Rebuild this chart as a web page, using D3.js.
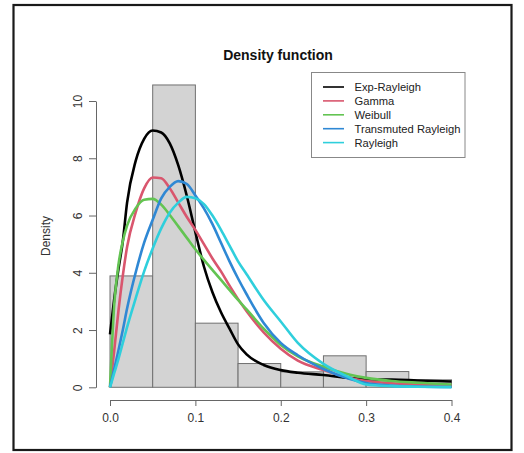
<!DOCTYPE html>
<html><head><meta charset="utf-8">
<script src="https://cdn.jsdelivr.net/npm/d3@7"></script>
<style>body{margin:0;background:#fff}svg{display:block}text{font-family:"Liberation Sans",Arial,sans-serif}</style>
</head><body><svg id="c" width="524" height="453"></svg>
<script>
const binEdges = [0, 0.05, 0.1, 0.15, 0.2, 0.25, 0.3, 0.35, 0.4];
const binDensity = [3.89, 10.56, 2.24, 0.83, 0.54, 1.10, 0.55, 0.26];
const xGrid = [0,0.005,0.01,0.015,0.02,0.03,0.04,0.05,0.06,0.07,0.08,0.09,0.1,0.11,0.12,0.13,0.14,0.15,0.16,0.18,0.2,0.22,0.25,0.28,0.3,0.33,0.36,0.4];
const expRayleigh = [1.85,3.1,4.15,5.1,6.45,7.9,8.68,8.97,8.9,8.52,7.75,6.68,5.42,4.22,3.32,2.62,2.05,1.5,1.15,0.78,0.6,0.51,0.43,0.33,0.28,0.27,0.24,0.2];
const gammaD = [0,1.3,2.7,3.9,4.9,6.1,6.95,7.33,7.3,6.95,6.45,5.95,5.5,5.0,4.5,4.05,3.55,3.08,2.66,1.92,1.35,0.93,0.6,0.33,0.22,0.14,0.1,0.06];
const weibullD = [0,2.9,4.3,5.1,5.65,6.25,6.55,6.58,6.38,6.02,5.62,5.22,4.82,4.45,4.1,3.75,3.4,3.05,2.72,2.05,1.48,1.08,0.72,0.45,0.33,0.22,0.16,0.1];
const transRayleigh = [0,0.65,1.3,2.0,2.75,4.0,5.05,5.85,6.6,7.0,7.2,7.1,6.7,6.25,5.7,5.05,4.4,3.8,3.25,2.25,1.55,1.12,0.64,0.3,0.15,0.06,0.03,0.01];
const rayleighD = [0,0.5,1.0,1.55,2.1,3.1,4.05,4.85,5.55,6.1,6.45,6.65,6.6,6.4,6.0,5.5,4.95,4.4,3.95,3.05,2.3,1.55,0.82,0.35,0.1,0.04,0.02,0.005];
const seriesNames = ["Exp-Rayleigh","Gamma","Weibull","Transmuted Rayleigh","Rayleigh"];
const seriesColors = ["#000000","#d9566e","#63c452","#2f88d4","#2fcfdc"];
const seriesValues = [expRayleigh, gammaD, weibullD, transRayleigh, rayleighD];
const xTicks = [0, 0.1, 0.2, 0.3, 0.4];
const yTicks = [0, 2, 4, 6, 8, 10];

const svg = d3.select("#c");
const x = d3.scaleLinear().domain([0, 0.4]).range([110, 451.5]);
const y = d3.scaleLinear().domain([0, 10]).range([387.3, 101]);

svg.append("rect").attr("x",13.5).attr("y",5).attr("width",498).attr("height",445)
  .attr("fill","none").attr("stroke","#1a1a1a").attr("stroke-width",2.2);

// histogram
svg.append("g").selectAll("rect").data(binDensity).join("rect")
  .attr("x",(d,i)=>x(binEdges[i])).attr("width",(d,i)=>x(binEdges[i+1])-x(binEdges[i]))
  .attr("y",d=>y(d)).attr("height",d=>y(0)-y(d))
  .attr("fill","#d3d3d3").attr("stroke","#707070").attr("stroke-width",1);

// curves
const line = d3.line().x(d=>x(d[0])).y(d=>y(d[1])).curve(d3.curveMonotoneX);
seriesValues.forEach((vals,k)=>{
  svg.append("path").datum(xGrid.map((xv,i)=>[xv,vals[i]]))
    .attr("d",line).attr("fill","none").attr("stroke",seriesColors[k])
    .attr("stroke-width",2.6).attr("stroke-linejoin","round");
});

// axes
const ax = d3.axisBottom(x).tickValues(xTicks).tickFormat(d3.format(".1f")).tickSize(6).tickSizeOuter(0);
const gx = svg.append("g").attr("transform","translate(0,400)").call(ax);
gx.select(".domain").attr("stroke","#666");
gx.selectAll(".tick line").attr("stroke","#666");
gx.selectAll(".tick text").attr("font-size",12).attr("fill","#333").attr("dy","1.05em")
  .attr("font-family","Liberation Sans, Arial, sans-serif");

const ay = d3.axisLeft(y).tickValues(yTicks).tickSize(7).tickSizeOuter(0);
const gy = svg.append("g").attr("transform","translate(96,0)").call(ay);
gy.select(".domain").attr("stroke","#666");
gy.selectAll(".tick line").attr("stroke","#666");
gy.selectAll(".tick text").attr("font-size",12).attr("fill","#333")
  .attr("font-family","Liberation Sans, Arial, sans-serif")
  .attr("x",null).attr("dy",null).attr("text-anchor","middle")
  .attr("transform","translate(-14.5,0) rotate(-90)");

svg.append("text").attr("transform","translate(49.5,236) rotate(-90)").attr("text-anchor","middle")
  .attr("font-size",12).attr("fill","#333").text("Density");

svg.append("text").attr("x",278).attr("y",60).attr("text-anchor","middle")
  .attr("font-size",14).attr("font-weight","bold").attr("fill","#111").text("Density function");

// legend
const lg = svg.append("g");
lg.append("rect").attr("x",311.5).attr("y",72.5).attr("width",153.5).attr("height",85)
  .attr("fill","#fff").attr("stroke","#888").attr("stroke-width",1);
seriesNames.forEach((n,i)=>{
  const yy = 87 + i*13.9;
  lg.append("line").attr("x1",323).attr("x2",344).attr("y1",yy).attr("y2",yy)
    .attr("stroke",seriesColors[i]).attr("stroke-width",1.6);
  lg.append("text").attr("x",354.5).attr("y",yy+4.2).attr("font-size",11.2).attr("fill","#222").text(n);
});
</script></body></html>
